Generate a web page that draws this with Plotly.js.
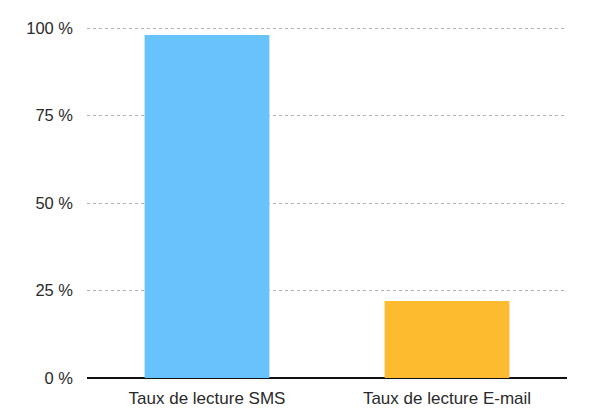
<!DOCTYPE html>
<html>
<head>
<meta charset="utf-8">
<script src="https://cdn.plot.ly/plotly-3.0.1.min.js"></script>
<style>
  html, body { margin: 0; padding: 0; background: #fff; }
  #chart { width: 600px; height: 417px; }
</style>
</head>
<body>
<div id="chart"></div>
<script>
var categories = ["Taux de lecture SMS", "Taux de lecture E-mail"];
var values = [98, 22];
var barColors = ["#68c3fd", "#fdbc2f"];
var tickVals = [0, 25, 50, 75, 100];
var tickText = ["0 %", "25 %", "50 %", "75 %", "100 %"];

var trace = {
  x: categories,
  y: values,
  type: 'bar',
  marker: { color: barColors },
  hoverinfo: 'none'
};

var layout = {
  width: 600,
  height: 417,
  margin: { l: 87, r: 33, t: 27, b: 39 },
  paper_bgcolor: '#fff',
  plot_bgcolor: '#fff',
  showlegend: false,
  bargap: 0.48,
  font: { family: 'Liberation Sans, Arial, sans-serif', size: 17, color: '#2a2a2a' },
  xaxis: {
    showgrid: false,
    showline: false,
    ticks: '',
    ticklabelstandoff: 8,
    tickfont: { size: 17, color: '#2a2a2a' }
  },
  yaxis: {
    range: [0, 100.3],
    tickvals: tickVals,
    ticktext: tickText,
    ticks: '',
    ticklabelstandoff: 13,
    showline: false,
    showgrid: true,
    gridcolor: '#b3aebd',
    griddash: 'dot',
    gridwidth: 1,
    zeroline: true,
    zerolinecolor: '#111',
    zerolinewidth: 1.3,
    tickfont: { size: 16.5, color: '#2a2a2a' }
  }
};

Plotly.newPlot('chart', [trace], layout, { staticPlot: true, displayModeBar: false });
</script>
</body>
</html>
